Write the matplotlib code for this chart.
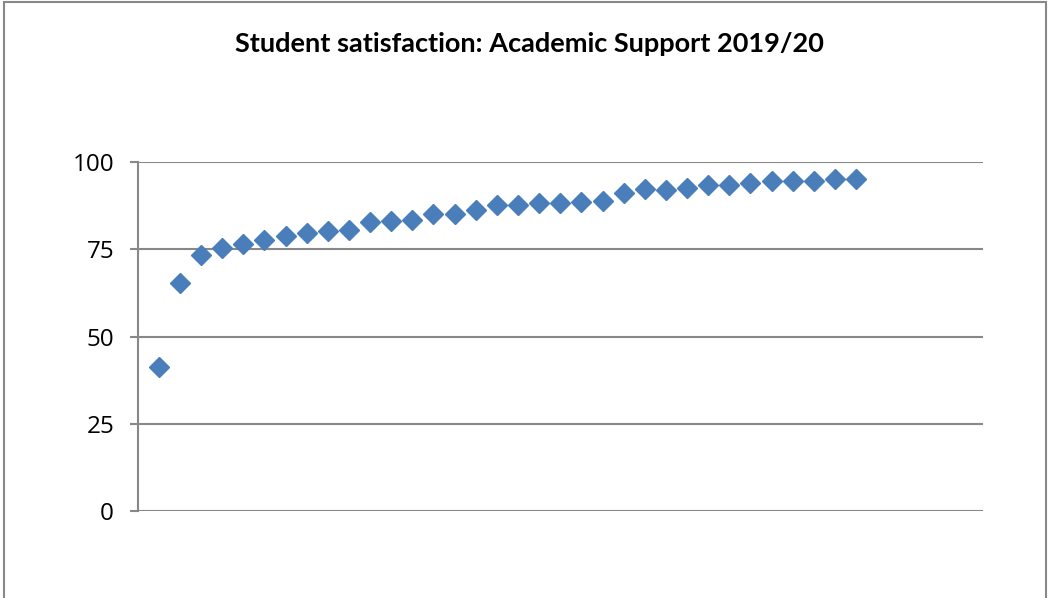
import matplotlib.pyplot as plt
from matplotlib.patches import Rectangle

# satisfaction scores (%), one per course, sorted low to high
course = list(range(1, 35))
score = [41.3, 65.4, 73.4, 75.3, 76.4, 77.8, 78.7, 79.8, 80.1, 80.4,
         82.8, 83.1, 83.4, 85.1, 85.1, 86.4, 87.7, 87.7, 88.3, 88.3,
         88.6, 88.9, 91.2, 92.2, 92.0, 92.7, 93.4, 93.4, 93.9, 94.6,
         94.6, 94.6, 95.1, 95.1]
yticks = [0, 25, 50, 75, 100]

grey = '#888888'

fig = plt.figure(figsize=(10.5, 5.98), dpi=100)
fig.patches.append(Rectangle((0.0035, -0.01), 0.993, 1.007, transform=fig.transFigure,
                             fill=False, edgecolor=grey, linewidth=1.5))

ax = fig.add_axes([0.1311, 0.1455, 0.8050, 0.5835])
ax.plot(course, score, linestyle='none', marker='D', markersize=10,
        color='#4A7EBB', markeredgecolor='#4A7EBB', zorder=3)

ax.set_xlim(0, 40)
ax.set_ylim(0, 100)
ax.set_yticks(yticks)
ax.set_xticks([])
ax.yaxis.grid(True, color=grey, linewidth=1.5)
ax.set_axisbelow(True)
for s in ['top', 'right', 'bottom']:
    ax.spines[s].set_visible(False)
ax.spines['left'].set_color(grey)
ax.spines['left'].set_linewidth(1.5)
ax.tick_params(axis='y', length=6, width=1.5, color=grey, pad=11,
               labelsize=17.5, labelcolor='black')
for lbl in ax.get_yticklabels():
    lbl.set_family('Open Sans')

fig.text(0.504, 0.927, 'Student satisfaction: Academic Support 2019/20',
         ha='center', va='center', fontsize=19.5, fontweight='bold', family='Lato')

plt.savefig('out.png', dpi=100)
plt.close()
